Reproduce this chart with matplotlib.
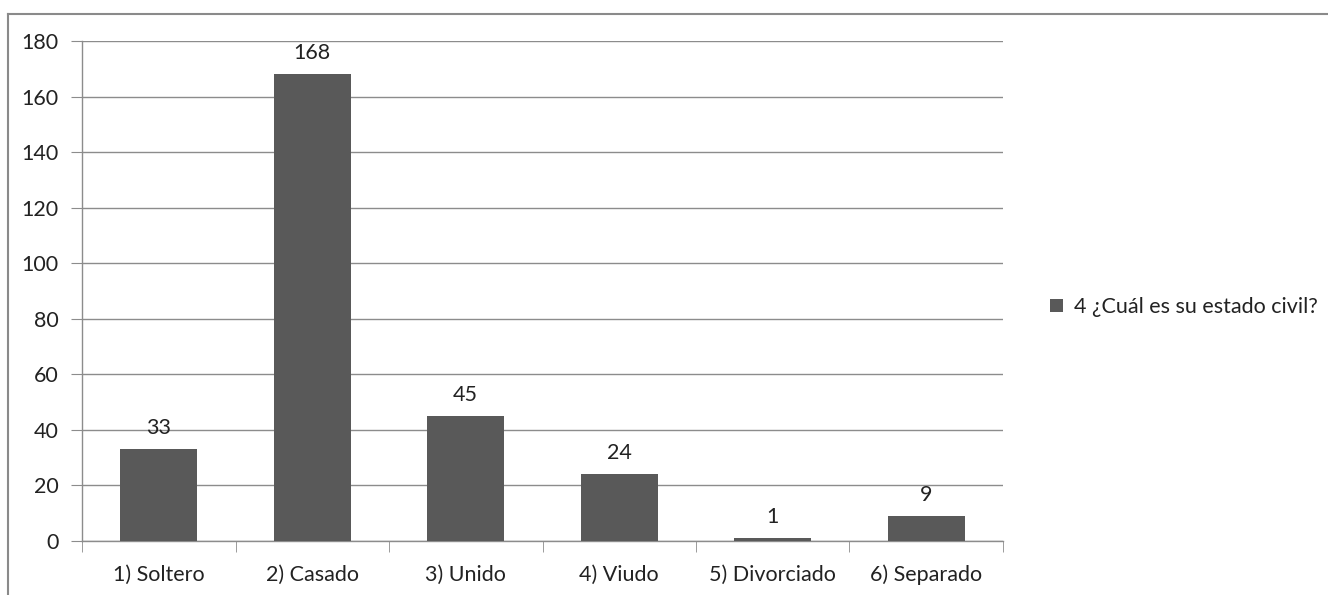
import matplotlib.pyplot as plt
from matplotlib.lines import Line2D
from matplotlib.patches import Patch

categories = ['1) Soltero', '2) Casado', '3) Unido', '4) Viudo', '5) Divorciado', '6) Separado']
values = [33, 168, 45, 24, 1, 9]
series_name = '4 ¿Cuál es su estado civil?'

plt.rcParams['font.family'] = ['Lato', 'DejaVu Sans']

W, H = 1328, 595
fig = plt.figure(figsize=(W / 100, H / 100), dpi=100)
ax = fig.add_axes([82 / W, 1 - 541 / H, (1003 - 82) / W, (541 - 41) / H])

bar_color = '#595959'
grid_color = '#8c8c8c'
text_color = '#222222'
fs = 15.5

x = list(range(len(categories)))
ax.bar(x, values, width=0.5, color=bar_color, zorder=3)
for xi, v in zip(x, values):
    ax.annotate(str(v), (xi, v), xytext=(0, 8), textcoords='offset points',
                ha='center', va='bottom', fontsize=fs, color=text_color)

ax.set_xlim(-0.5, len(categories) - 0.5)
ax.set_ylim(0, 180)
ax.set_yticks(range(0, 181, 20))
ax.yaxis.grid(True, color=grid_color, linewidth=1, zorder=0)

ax.set_xticks(x)
ax.set_xticklabels(categories)
ax.set_xticks([i - 0.5 for i in range(len(categories) + 1)], minor=True)
ax.tick_params(axis='x', which='major', length=0, pad=17, labelsize=fs, labelcolor=text_color)
ax.tick_params(axis='x', which='minor', length=8, color=grid_color, direction='out')
ax.tick_params(axis='y', length=8, color=grid_color, labelsize=fs, labelcolor=text_color, pad=9)

for s in ['top', 'right']:
    ax.spines[s].set_visible(False)
for s in ['left', 'bottom']:
    ax.spines[s].set_color(grid_color)
    ax.spines[s].set_linewidth(1)

handle = Patch(facecolor=bar_color, edgecolor='none')
fig.legend([handle], [series_name], loc='center left',
           bbox_to_anchor=(1031 / W, 1 - 307 / H), frameon=False,
           fontsize=fs, handlelength=0.6, handleheight=0.6, handletextpad=0.5,
           labelcolor=text_color)

# outer chart border (only top and left edges visible in the crop)
fig.add_artist(Line2D([8 / W, 1], [1 - 14 / H, 1 - 14 / H], transform=fig.transFigure,
                      color='#8a8a8a', linewidth=1.5))
fig.add_artist(Line2D([8 / W, 8 / W], [0, 1 - 14 / H], transform=fig.transFigure,
                      color='#8a8a8a', linewidth=1.5))

fig.savefig('out.png', dpi=100)
